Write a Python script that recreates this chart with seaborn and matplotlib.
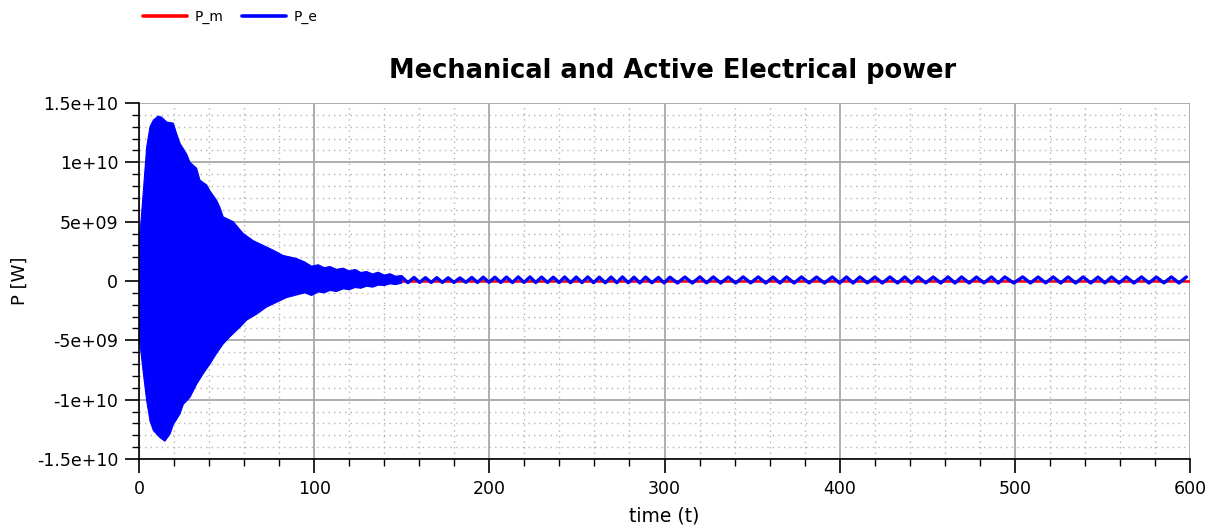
import numpy as np
import pandas as pd
import matplotlib
matplotlib.use("Agg")
import matplotlib.pyplot as plt
import seaborn as sns
from matplotlib.ticker import MultipleLocator, FuncFormatter
from matplotlib.lines import Line2D

# ---- data (power in units of 1e9 W, time in s) ----
# envelope of the fast electrical oscillation during the first ~150 s
env_upper_t = [0, 0.6, 2.5, 4.4, 6.3, 8.2, 11.0, 12.9, 15.8, 19.6, 21.5, 23.4, 27.2, 29.1,
               32.9, 34.8, 38.6, 40.5, 44.3, 46.2, 48.1, 53.8, 59.5, 65.2, 70.9, 76.6,
               82.3, 89.9, 94.7, 98.5, 102.4, 105.7, 109.0, 112.8, 116.6, 120.0, 123.3,
               126.6, 130.0, 133.3, 136.6, 140.0, 143.3, 146.6, 150.0]
env_upper_p = [4.2, 4.0, 7.6, 11.3, 13.0, 13.56, 13.9, 13.8, 13.4, 13.3, 12.4, 11.6, 10.7, 10.0,
               9.5, 8.5, 8.1, 7.6, 6.8, 6.2, 5.4, 5.0, 4.0, 3.4, 3.0, 2.6,
               2.15, 1.9, 1.6, 1.25, 1.37, 1.12, 1.22, 0.98, 1.08, 0.85, 0.97,
               0.72, 0.80, 0.60, 0.74, 0.50, 0.61, 0.40, 0.46]
env_lower_t = [0, 0.6, 2.5, 4.4, 6.3, 8.2, 12.0, 14.8, 17.7, 19.6, 23.4, 25.3, 29.1, 32.9,
               36.7, 40.5, 44.3, 48.1, 51.9, 57.6, 61.4, 67.1, 72.8, 78.5, 84.2, 91.9, 94.7,
               98.5, 102.4, 105.7, 109.0, 112.8, 116.6, 120.0, 123.3, 126.6, 130.0, 133.3,
               136.6, 140.0, 143.3, 146.6, 150.0]
env_lower_p = [-3.5, -5.3, -7.8, -10.1, -11.8, -12.6, -13.2, -13.5, -12.9, -12.1, -11.2, -10.4,
               -9.8, -8.7, -7.8, -7.0, -6.1, -5.3, -4.7, -3.9, -3.3, -2.8, -2.2, -1.8,
               -1.4, -1.1, -1.0, -1.22, -0.92, -1.0, -0.80, -0.89, -0.66, -0.74, -0.55,
               -0.61, -0.44, -0.52, -0.35, -0.38, -0.24, -0.30, -0.18]

# local maxima / minima of the slow electrical swing afterwards
peak_t = [143.3, 150.0, 157.0,
          163.5, 170.0, 176.5, 183.2, 190.0, 196.5, 203.2, 209.8, 216.5, 223.2,
          229.8, 236.5, 243.0, 249.6, 256.2, 262.8, 269.5, 276.0, 282.6, 289.2,
          296.5, 303.1, 311.6, 320.2, 327.8, 336.4, 344.9, 353.5, 362.0, 369.7,
          378.2, 386.8, 395.8, 403.9, 411.5, 420.1, 428.7, 437.2, 444.8, 453.4,
          461.9, 469.6, 478.1, 486.7, 494.3, 504.5, 513.3, 521.9, 530.4, 539.0,
          547.5, 555.2, 563.7, 572.3, 580.8, 589.4, 597.9]
peak_p = [0.48, 0.34, 0.30,
          0.28, 0.28, 0.27, 0.26, 0.30, 0.32, 0.32, 0.33, 0.34, 0.34,
          0.33, 0.32, 0.34, 0.33, 0.34, 0.32, 0.33, 0.34, 0.32, 0.33,
          0.30, 0.32, 0.33, 0.34, 0.34, 0.33, 0.34, 0.34, 0.33, 0.34,
          0.34, 0.33, 0.34, 0.34, 0.34, 0.33, 0.34, 0.34, 0.34, 0.33,
          0.34, 0.34, 0.33, 0.34, 0.34, 0.34, 0.33, 0.34, 0.34, 0.34,
          0.33, 0.34, 0.34, 0.34, 0.33, 0.34, 0.34]
trough_t = [146.6, 153.5, 160.2,
            166.8, 173.2, 179.8, 186.6, 193.2, 199.8, 206.5, 213.2, 219.8, 226.5,
            233.2, 239.8, 246.3, 252.9, 259.5, 266.2, 272.8, 279.3, 285.9, 292.8,
            299.8, 307.4, 315.9, 324.0, 332.1, 340.6, 349.2, 357.8, 365.9, 374.0,
            382.5, 391.3, 399.9, 407.7, 415.8, 424.4, 433.0, 441.0, 449.1, 457.7,
            465.8, 473.9, 482.4, 490.5, 499.4, 508.9, 517.6, 526.2, 534.7, 543.3,
            551.4, 559.5, 568.0, 576.6, 585.1, 593.7]
trough_p = [-0.17, -0.14, -0.12,
            -0.12, -0.12, -0.12, -0.11, -0.12, -0.11, -0.12, -0.13, -0.12, -0.13,
            -0.12, -0.13, -0.14, -0.13, -0.14, -0.15, -0.14, -0.15, -0.16, -0.15,
            -0.16, -0.17, -0.17, -0.16, -0.17, -0.17, -0.16, -0.17, -0.17, -0.17,
            -0.16, -0.17, -0.17, -0.17, -0.16, -0.17, -0.17, -0.17, -0.16, -0.17,
            -0.17, -0.17, -0.16, -0.17, -0.17, -0.17, -0.16, -0.17, -0.17, -0.17,
            -0.16, -0.17, -0.17, -0.17, -0.16, -0.17]

# mechanical power
pm_t = [0, 600]
pm_p = [0.0, 0.0]

x_ticks = [0, 100, 200, 300, 400, 500, 600]
y_ticks = [-1.5e10, -1e10, -5e9, 0, 5e9, 1e10, 1.5e10]

SCALE = 1e9
BLUE = "#0000ff"
RED = "#ff0000"

sns.set_style("white")
plt.rcParams["font.family"] = ["DejaVu Sans"]
plt.rcParams["text.color"] = "black"
plt.rcParams["axes.labelcolor"] = "black"

fig = plt.figure(figsize=(12.2, 5.3), dpi=100)
ax = fig.add_axes([139 / 1220, 1 - 459 / 530, (1190 - 139) / 1220, (459 - 103) / 530])

# grid
ax.set_axisbelow(True)
ax.xaxis.set_major_locator(MultipleLocator(100))
ax.xaxis.set_minor_locator(MultipleLocator(20))
ax.yaxis.set_major_locator(MultipleLocator(5e9))
ax.yaxis.set_minor_locator(MultipleLocator(1e9))
ax.grid(which="major", color="#a8a8a8", linewidth=1.3, linestyle="-")
ax.grid(which="minor", color="#b4b4b4", linewidth=1.0, linestyle=(0, (1, 3)))

# mechanical power (drawn first, underneath the electrical trace)
df_m = pd.DataFrame({"t": pm_t, "P": np.array(pm_p) * SCALE})
sns.lineplot(data=df_m, x="t", y="P", ax=ax, color=RED, linewidth=1.8, estimator=None,
             zorder=2)

# fast initial oscillation shown as its filled envelope
poly_t = list(env_upper_t) + list(env_lower_t[::-1])
poly_p = list(env_upper_p) + list(env_lower_p[::-1])
ax.fill(poly_t, np.array(poly_p) * SCALE, color=BLUE, linewidth=0.8, edgecolor=BLUE,
        zorder=3)

# slower swing through the extrema
df_e = pd.DataFrame({"t": list(peak_t) + list(trough_t),
                     "P": (np.array(list(peak_p) + list(trough_p))) * SCALE})
df_e = df_e.sort_values("t")
sns.lineplot(data=df_e, x="t", y="P", ax=ax, color=BLUE, linewidth=2.4,
             estimator=None, sort=True, zorder=3)

ax.set_xlim(0, 600)
ax.set_ylim(-1.5e10, 1.5e10)
ax.set_xticks(x_ticks)
ax.set_yticks(y_ticks)
ax.yaxis.set_major_formatter(FuncFormatter(lambda v, p: "%g" % v))
ax.xaxis.set_major_formatter(FuncFormatter(lambda v, p: "%g" % v))

for side in ("top", "right"):
    ax.spines[side].set_visible(False)
for side in ("left", "bottom"):
    ax.spines[side].set_color("black")
    ax.spines[side].set_linewidth(1.2)
    ax.spines[side].set_zorder(4)

ax.tick_params(which="major", direction="out", length=10, width=1.2, color="black",
               labelsize=12.5, labelcolor="black", left=True, bottom=True, pad=5)
ax.tick_params(which="minor", direction="out", length=5, width=1.0, color="black",
               left=True, bottom=True)

ax.set_xlabel("time (t)", fontsize=13.5, labelpad=6, color="black")
ax.set_ylabel("P [W]", fontsize=13, labelpad=6, color="black")
ax.set_title("Mechanical and Active Electrical power", fontsize=18.5, fontweight="bold",
             pad=18, color="black", x=0.508)

handles = [Line2D([], [], color=RED, linewidth=2.6),
           Line2D([], [], color=BLUE, linewidth=2.6)]
fig.legend(handles, ["P_m", "P_e"], loc="center left", bbox_to_anchor=(143 / 1220, 1 - 17 / 530),
           ncol=2, frameon=False, fontsize=10, handlelength=3.2, handletextpad=0.55,
           columnspacing=1.3, borderpad=0, borderaxespad=0)

fig.savefig("out.png", dpi=100)
